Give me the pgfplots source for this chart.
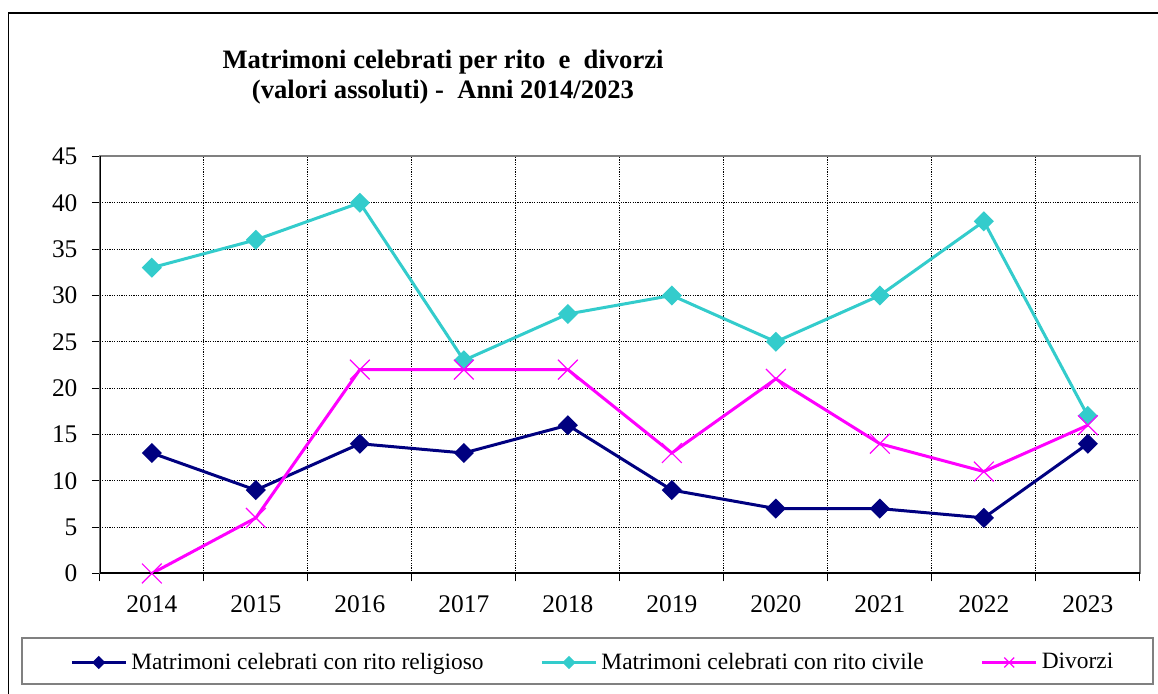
\documentclass[border=0pt]{standalone}
\usepackage{fontspec}
\setmainfont{Liberation Serif}
\usepackage{pgfplots}
\pgfplotsset{compat=1.18}
\definecolor{navyc}{HTML}{000080}
\definecolor{turq}{HTML}{33CCCC}
\definecolor{mag}{HTML}{FF00FF}
\begin{document}
\begin{tikzpicture}[x=0.5pt,y=0.5pt]
\useasboundingbox (0,0) rectangle (1158,693);
\clip (0,0) rectangle (1158,693);
\fill[white] (0,0) rectangle (1158,693);
\draw[black, line width=0.8pt] (8.5,-10) -- (8.5,680) -- (1170,680);
\draw[gray, line width=0.8pt] (22,9) rectangle (1153,55);
\node[font=\bfseries\fontsize{13.3}{15}\selectfont, align=center] at (443,616) {Matrimoni celebrati per rito\ \ e\ \ divorzi\\(valori assoluti) -\ \ Anni 2014/2023};
\begin{axis}[at={(96,129)}, anchor=south west, scale only axis,
  width=520pt, height=208.5pt,
  xmin=-0.5, xmax=9.5, ymin=0, ymax=45,
  xtick={-0.5,0.5,1.5,2.5,3.5,4.5,5.5,6.5,7.5,8.5,9.5}, xticklabels={},
  extra x ticks={0,1,2,3,4,5,6,7,8,9},
  extra x tick labels={2014,2015,2016,2017,2018,2019,2020,2021,2022,2023},
  extra x tick style={major tick length=0pt, grid=none},
  ytick={0,5,...,45},
  tick align=outside, major tick length=4pt,
  xtick pos=bottom, ytick pos=left,
  xmajorgrids, ymajorgrids,
  major grid style={black, line width=0.5pt, dash pattern=on 0.6pt off 0.6pt},
  tick style={black, line width=0.6pt},
  axis line style={draw=gray, line width=1pt},
  ticklabel style={font=\fontsize{12.7}{14}\selectfont},
  /pgf/number format/assume math mode=true,
  yticklabel style={inner sep=0pt, xshift=-7pt},
  xticklabel style={inner sep=0pt, yshift=-11pt},
  legend columns=3,
  legend style={at={(-0.0288,-0.2134)}, anchor=west, draw=none, fill=none, inner sep=0pt,
    font=\fontsize{11.7}{13}\selectfont,
    nodes={inner xsep=2pt, inner ysep=0pt},
    /tikz/every even column/.append style={column sep=26.5pt}},
  legend image code/.code={\draw[mark repeat=2,mark phase=2] plot coordinates {(0pt,0pt) (13.5pt,0pt) (27pt,0pt)};},
]
\addplot[navyc, line width=1.5pt, mark=square*, mark size=2.8pt, mark options={rotate=45, solid}, legend image post style={mark size=1.6pt}]
 coordinates {(0,13) (1,9) (2,14) (3,13) (4,16) (5,9) (6,7) (7,7) (8,6) (9,14)};
\addlegendentry{Matrimoni celebrati con rito religioso}
\addplot[turq, line width=1.5pt, mark=square*, mark size=2.8pt, mark options={rotate=45, solid}, legend image post style={mark size=1.6pt}]
 coordinates {(0,33) (1,36) (2,40) (3,23) (4,28) (5,30) (6,25) (7,30) (8,38) (9,17)};
\addlegendentry{Matrimoni celebrati con rito civile}
\addplot[mag, line width=1.5pt, mark=x, mark size=7pt, mark options={line width=0.6pt}, legend image post style={mark size=3.5pt}]
 coordinates {(0,0) (1,6) (2,22) (3,22) (4,22) (5,13) (6,21) (7,14) (8,11) (9,16)};
\addlegendentry{Divorzi}
\draw[black, line width=1pt] (rel axis cs:0,1) -- (rel axis cs:0,0) -- (rel axis cs:1,0);
\end{axis}
\end{tikzpicture}
\end{document}
